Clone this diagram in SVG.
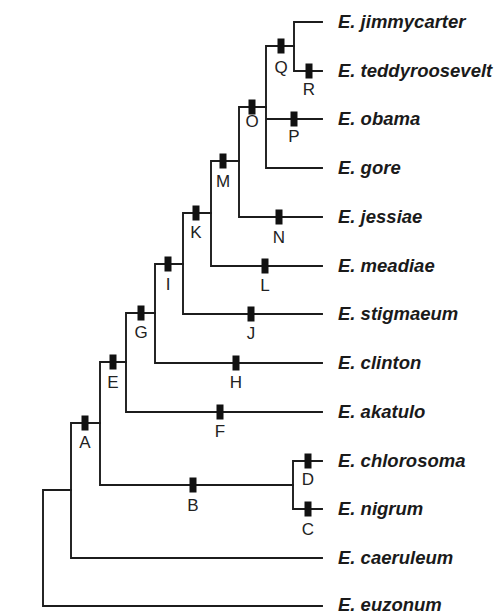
<svg xmlns="http://www.w3.org/2000/svg" width="495" height="614" viewBox="0 0 495 614">
<style>
.br{fill:none;stroke:#1c1c1c;stroke-width:1.9;stroke-linecap:square}
.mk{fill:#111}
.lb{font-family:"Liberation Sans",Arial,sans-serif;font-size:17px;fill:#222;text-anchor:middle}
.sp{font-family:"Liberation Sans",Arial,sans-serif;font-size:18.5px;font-weight:bold;font-style:italic;fill:#1a1a1a}
</style>
<defs>
<rect id="m" class="mk" x="-3.5" y="-7.5" width="7" height="15"/>
</defs>
<rect width="495" height="614" fill="#fff"/>
<g id="connectors" class="br">
<path d="M43 490V606M43 490H71M43 606H322"/>
<path d="M71 423V558M71 423H100M71 558H322"/>
<path d="M100 362V485M100 362H126M100 485H293"/>
<path d="M293 461V509M293 461H322M293 509H322"/>
<path d="M126 313V412M126 313H155M126 412H322"/>
<path d="M155 264V363M155 264H183M155 363H322"/>
<path d="M183 213V314M183 213H211M183 314H322"/>
<path d="M211 161V266M211 161H239M211 266H322"/>
<path d="M239 107V217M239 107H266M239 217H322"/>
<path d="M266 46V168M266 46H294M266 119H322M266 168H322"/>
<path d="M294 22V71M294 22H322M294 71H322"/>
</g>
<g id="node-A"><use href="#m" x="85" y="423"/><text class="lb" x="85" y="448">A</text></g>
<g id="node-B"><use href="#m" x="193" y="485"/><text class="lb" x="193" y="511">B</text></g>
<g id="node-C"><use href="#m" x="308" y="509"/><text class="lb" x="308" y="535">C</text></g>
<g id="node-D"><use href="#m" x="308" y="461"/><text class="lb" x="308" y="485">D</text></g>
<g id="node-E"><use href="#m" x="113" y="362"/><text class="lb" x="113" y="388">E</text></g>
<g id="node-F"><use href="#m" x="220" y="412"/><text class="lb" x="220" y="437">F</text></g>
<g id="node-G"><use href="#m" x="141" y="313"/><text class="lb" x="141" y="338">G</text></g>
<g id="node-H"><use href="#m" x="236" y="363"/><text class="lb" x="236" y="388">H</text></g>
<g id="node-I"><use href="#m" x="168" y="264"/><text class="lb" x="168" y="290">I</text></g>
<g id="node-J"><use href="#m" x="251" y="314"/><text class="lb" x="251" y="339">J</text></g>
<g id="node-K"><use href="#m" x="196" y="213"/><text class="lb" x="196" y="238">K</text></g>
<g id="node-L"><use href="#m" x="265" y="266"/><text class="lb" x="265" y="291">L</text></g>
<g id="node-M"><use href="#m" x="223" y="161"/><text class="lb" x="223" y="187">M</text></g>
<g id="node-N"><use href="#m" x="279" y="217"/><text class="lb" x="279" y="242.5">N</text></g>
<g id="node-O"><use href="#m" x="252" y="107"/><text class="lb" x="252" y="127">O</text></g>
<g id="node-P"><use href="#m" x="294" y="119"/><text class="lb" x="294" y="142">P</text></g>
<g id="node-Q"><use href="#m" x="281" y="46"/><text class="lb" x="281" y="73">Q</text></g>
<g id="node-R"><use href="#m" x="309" y="71"/><text class="lb" x="309" y="95">R</text></g>
<g id="taxon-jimmycarter"><text class="sp" x="338" y="28">E. jimmycarter</text></g>
<g id="taxon-teddyroosevelt"><text class="sp" x="338" y="77">E. teddyroosevelt</text></g>
<g id="taxon-obama"><text class="sp" x="338" y="125">E. obama</text></g>
<g id="taxon-gore"><text class="sp" x="338" y="174">E. gore</text></g>
<g id="taxon-jessiae"><text class="sp" x="338" y="223">E. jessiae</text></g>
<g id="taxon-meadiae"><text class="sp" x="338" y="272">E. meadiae</text></g>
<g id="taxon-stigmaeum"><text class="sp" x="338" y="320">E. stigmaeum</text></g>
<g id="taxon-clinton"><text class="sp" x="338" y="369">E. clinton</text></g>
<g id="taxon-akatulo"><text class="sp" x="338" y="418">E. akatulo</text></g>
<g id="taxon-chlorosoma"><text class="sp" x="338" y="467">E. chlorosoma</text></g>
<g id="taxon-nigrum"><text class="sp" x="338" y="515">E. nigrum</text></g>
<g id="taxon-caeruleum"><text class="sp" x="338" y="564">E. caeruleum</text></g>
<g id="taxon-euzonum"><text class="sp" x="338" y="611">E. euzonum</text></g>
</svg>
